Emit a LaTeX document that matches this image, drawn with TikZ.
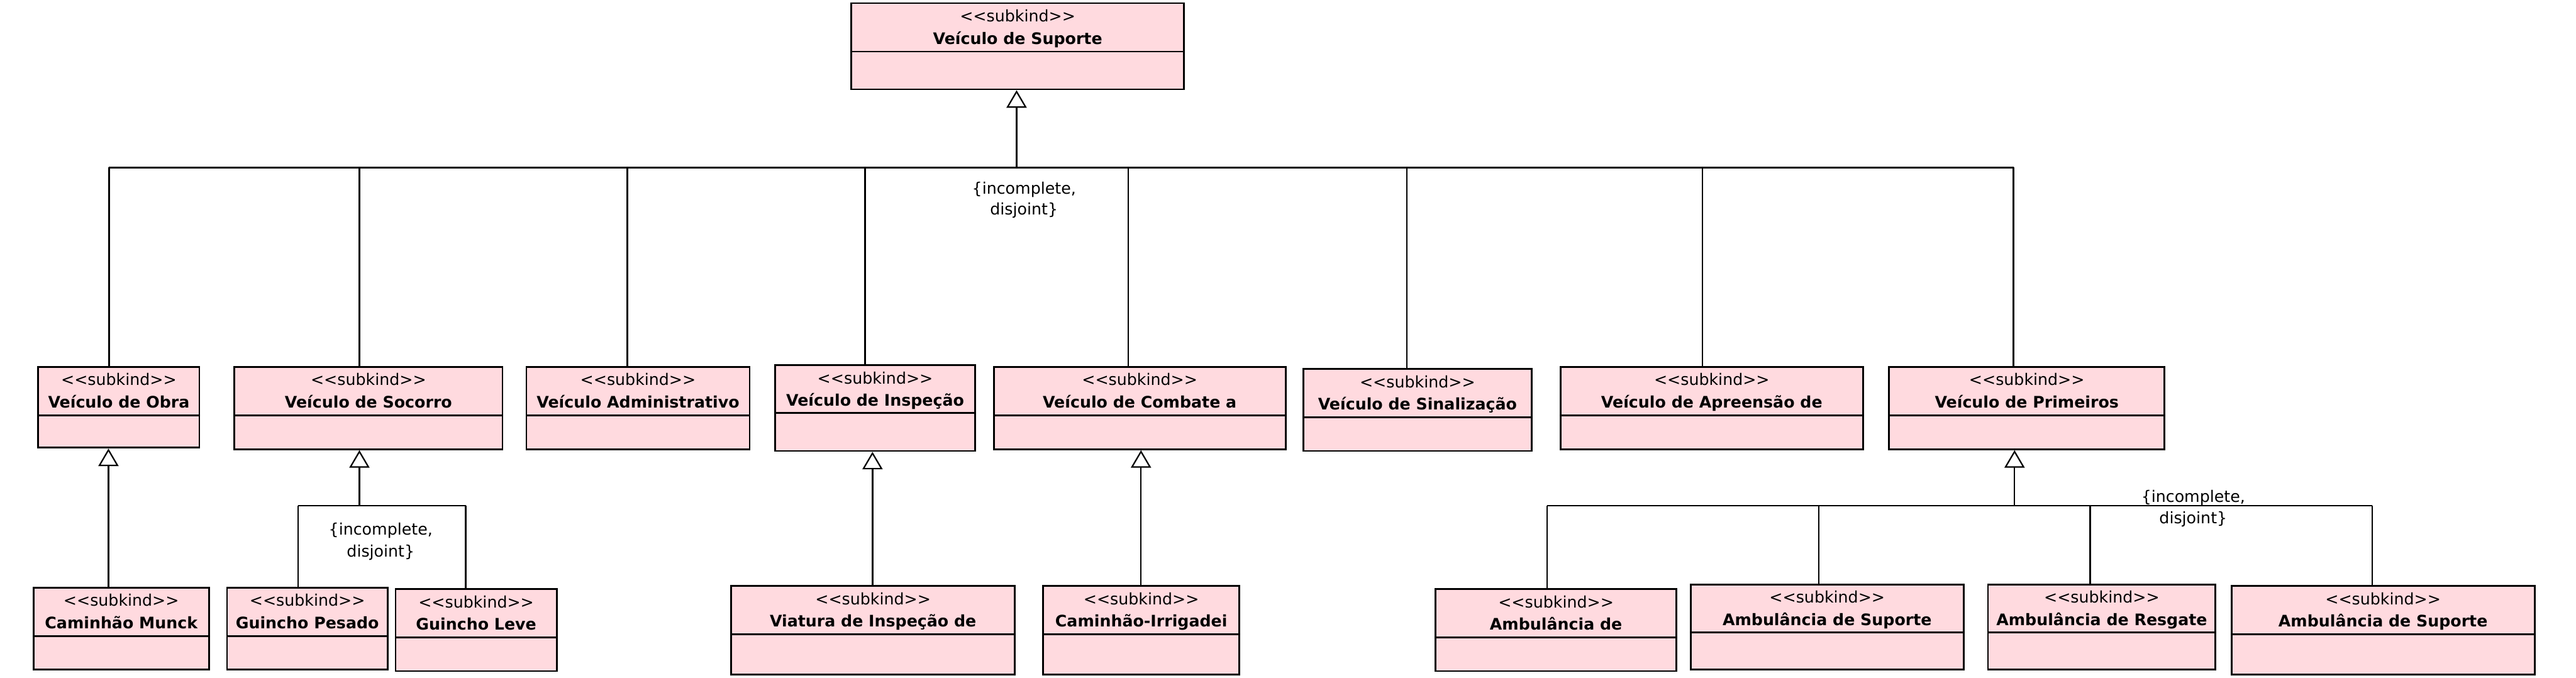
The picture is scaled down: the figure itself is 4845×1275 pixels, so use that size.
\documentclass[tikz,border=0pt]{standalone}
\usepackage{fontspec}
\setmainfont{DejaVu Sans}
\usetikzlibrary{arrows.meta,fit}
\definecolor{clsfill}{RGB}{255,218,223}
\newcommand{\stereotxt}{<\kern0pt<subkind>\kern0pt>}
\tikzset{
  x=0.01cm, y=-0.01cm,
  cls/.style={draw=black, fill=clsfill, line width=0.95pt, inner sep=0pt},
  divline/.style={line width=0.95pt},
  stereo/.style={font=\fontsize{8.5}{10}\selectfont, inner sep=0pt, anchor=base},
  cname/.style={font=\fontsize{8.5}{10}\selectfont\bfseries, inner sep=0pt, anchor=base},
  conn/.style={line width=0.8pt},
  busline/.style={line width=0.95pt},
  gen/.style={conn, -{Triangle[open, length=0.33cm, width=0.38cm, line width=0.75pt]}},
  setlabel/.style={font=\fontsize{8.5}{10}\selectfont, inner sep=0pt, anchor=base},
}
\newcommand{\umlbox}[7]{%
  \node[cls, fit={(#2,#3) (#4,#5)}] (#1) {};
  \draw[divline] (#2,#6) -- (#4,#6);
  \node[stereo] (#1-st) at ({(#2+#4)/2},#3+35) {\stereotxt};
  \node[cname] (#1-nm) at ({(#2+#4)/2},#3+77) {#7};
}
\begin{document}
\begin{tikzpicture}
\useasboundingbox (0,0) rectangle (4845,1275);
% classes
\umlbox{top}{1601}{6}{2227}{168}{97}{Veículo de Suporte}
\umlbox{obra}{72}{690}{375}{842}{781}{Veículo de Obra}
\umlbox{socorro}{441}{690}{945}{845}{781}{Veículo de Socorro}
\umlbox{admin}{990}{690}{1410}{845}{781}{Veículo Administrativo}
\umlbox{insp}{1458}{687}{1834}{848}{777}{Veículo de Inspeção}
\umlbox{combate}{1869}{690}{2418}{845}{781}{Veículo de Combate a}
\umlbox{sinal}{2451}{694}{2881}{848}{785}{Veículo de Sinalização}
\umlbox{apreensao}{2935}{690}{3504}{845}{781}{Veículo de Apreensão de}
\umlbox{primeiros}{3553}{690}{4071}{845}{781}{Veículo de Primeiros}
\umlbox{munck}{63}{1105}{393}{1259}{1196}{Caminhão Munck}
\umlbox{pesado}{427}{1105}{729}{1259}{1196}{Guincho Pesado}
\umlbox{leve}{744}{1108}{1047}{1262}{1199}{Guincho Leve}
\umlbox{viatura}{1375}{1102}{1909}{1269}{1193}{Viatura de Inspeção de}
\umlbox{irrig}{1962}{1102}{2331}{1269}{1193}{Caminhão-Irrigadei}
\umlbox{ambde}{2700}{1108}{3153}{1262}{1199}{Ambulância de}
\umlbox{supA}{3180}{1099}{3693}{1259}{1189}{Ambulância de Suporte}
\umlbox{resgate}{3739}{1099}{4167}{1259}{1189}{Ambulância de Resgate}
\umlbox{supB}{4197}{1102}{4767}{1269}{1193}{Ambulância de Suporte}
% top generalization set
\coordinate (b1L) at (205,315);
\coordinate (b1R) at (3787,315);
\coordinate (b1T) at (1912,315);
\draw[busline] (b1L) -- (b1R);
\draw[gen] (b1T) -- (b1T |- top.south);
\draw[conn] (205,315) -- (205,315 |- obra.north);
\draw[conn] (676,315) -- (676,315 |- socorro.north);
\draw[conn] (1180,315) -- (1180,315 |- admin.north);
\draw[conn] (1627,315) -- (1627,315 |- insp.north);
\draw[conn] (2122,315) -- (2122,315 |- combate.north);
\draw[conn] (2646,315) -- (2646,315 |- sinal.north);
\draw[conn] (3202,315) -- (3202,315 |- apreensao.north);
\draw[conn] (b1R) -- (b1R |- primeiros.north);
\node[setlabel] (lbl1a) at (1926,365) {\{incomplete,};
\node[setlabel] (lbl1b) at (1926,404) {disjoint\}};
% Obra -> Munck
\draw[gen] (204,0 |- munck.north) -- (204,0 |- obra.south);
% Socorro set
\coordinate (b2L) at (561,951);
\coordinate (b2R) at (876,951);
\coordinate (b2T) at (676,951);
\draw[busline] (b2L) -- (b2R);
\draw[gen] (b2T) -- (b2T |- socorro.south);
\draw[conn] (b2L) -- (b2L |- pesado.north);
\draw[conn] (b2R) -- (b2R |- leve.north);
\node[setlabel] (lbl2a) at (716,1006) {\{incomplete,};
\node[setlabel] (lbl2b) at (716,1047) {disjoint\}};
% Inspecao -> Viatura
\draw[gen] (1641,0 |- viatura.north) -- (1641,0 |- insp.south);
% Combate -> Irrigadei
\draw[gen] (2146,0 |- irrig.north) -- (2146,0 |- combate.south);
% Primeiros set
\coordinate (b3L) at (2910,951);
\coordinate (b3R) at (4462,951);
\coordinate (b3T) at (3789,951);
\draw[busline] (b3L) -- (b3R);
\draw[gen] (b3T) -- (b3T |- primeiros.south);
\draw[conn] (b3L) -- (b3L |- ambde.north);
\draw[conn] (3421,951) -- (3421,951 |- supA.north);
\draw[conn] (3931,951) -- (3931,951 |- resgate.north);
\draw[conn] (b3R) -- (b3R |- supB.north);
\node[setlabel] (lbl3a) at (4125,944) {\{incomplete,};
\node[setlabel] (lbl3b) at (4125,985) {disjoint\}};
\end{tikzpicture}
\end{document}
